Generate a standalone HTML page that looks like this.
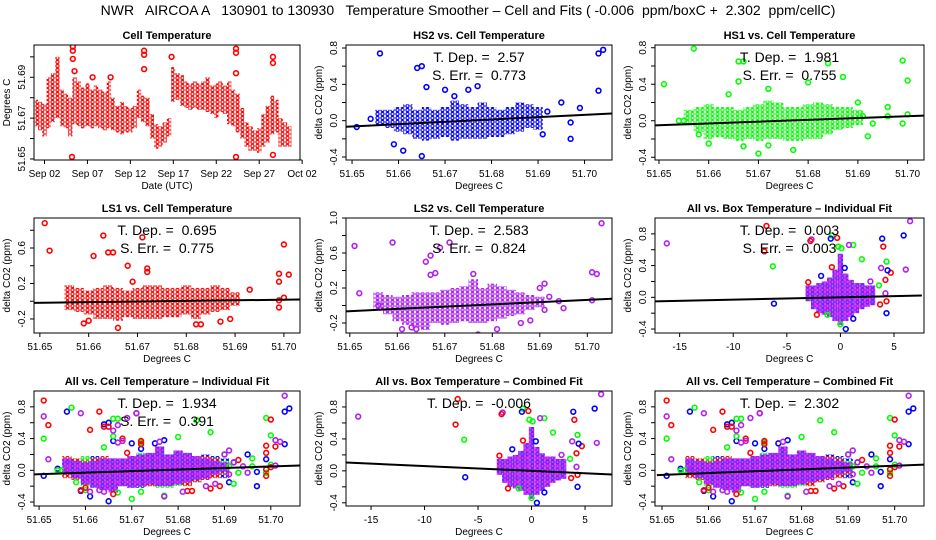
<!DOCTYPE html>
<html><head><meta charset="utf-8"><style>
html,body{margin:0;padding:0;background:#fff}
svg{display:block;font-family:"Liberation Sans",Arial,sans-serif}
</style></head><body>
<svg id="c" width="936" height="540" viewBox="0 0 936 540" xmlns="http://www.w3.org/2000/svg">
<defs>
<pattern id="p-r" width="5" height="4" patternUnits="userSpaceOnUse"><circle cx="2.5" cy="2" r="1.6" fill="none" stroke="#ff0000" stroke-width="1.2"/></pattern>
<pattern id="p-b" width="5" height="4" patternUnits="userSpaceOnUse"><circle cx="2.5" cy="2" r="1.6" fill="none" stroke="#0000ff" stroke-width="1.2"/></pattern>
<pattern id="p-g" width="5" height="4" patternUnits="userSpaceOnUse"><circle cx="2.5" cy="2" r="1.6" fill="none" stroke="#00ff00" stroke-width="1.2"/></pattern>
<pattern id="p-m" width="5" height="4" patternUnits="userSpaceOnUse"><circle cx="2.5" cy="2" r="1.6" fill="none" stroke="#a020f0" stroke-width="1.2"/><circle cx="2.5" cy="2" r="0.5" fill="#ff00ff"/></pattern>
<pattern id="p-mix" width="10" height="8" patternUnits="userSpaceOnUse"><rect width="10" height="8" fill="#e040ff"/><circle cx="2.5" cy="2" r="1.6" fill="none" stroke="#7020f0" stroke-width="1.2"/><circle cx="7.5" cy="6" r="1.6" fill="none" stroke="#7020f0" stroke-width="1.2"/><circle cx="7.5" cy="2" r="1.6" fill="none" stroke="#a020f0" stroke-width="1.2"/><circle cx="2.5" cy="6" r="1.6" fill="none" stroke="#5030ff" stroke-width="1.2"/></pattern>
</defs>
<text x="468" y="15" text-anchor="middle" font-size="14" style="white-space:pre">NWR   AIRCOA A   130901 to 130930   Temperature Smoother – Cell and Fits ( -0.006  ppm/boxC +  2.302  ppm/cellC)</text>
</svg>
<script>
// ---- Cell temperature time series (day of Sep, band low/high) ----
const tsDays=[1.0,1.5,2.0,2.5,3.0,3.5,4.0,4.5,5.0,5.5,6.0,6.5,7.0,7.5,8.0,8.5,9.0,9.5,10.0,10.5,11.0,11.5,12.0,12.5,13.0,13.5,14.0,14.5,15.0,15.5,16.0,16.5,17.0,17.5,18.0,18.5,19.0,19.5,20.0,20.5,21.0,21.5,22.0,22.5,23.0,23.5,24.0,24.5,25.0,25.5,26.0,26.5,27.0,27.5,28.0,28.5,29.0,29.5,30.0,30.5];
const tsLo=[51.666,51.664,51.661,51.665,51.668,51.670,51.666,51.665,51.661,51.667,51.666,51.665,51.666,51.665,51.666,51.665,51.664,51.665,51.664,51.663,51.662,51.663,51.663,51.665,51.670,51.668,51.666,51.660,51.655,51.656,51.658,51.661,51.678,51.679,51.676,51.675,51.674,51.675,51.674,51.674,51.673,51.672,51.670,51.673,51.672,51.667,51.666,51.663,51.660,51.656,51.654,51.654,51.653,51.656,51.658,51.662,51.663,51.656,51.656,51.656];
const tsHi=[51.679,51.678,51.677,51.690,51.692,51.700,51.684,51.682,51.680,51.690,51.688,51.685,51.687,51.684,51.686,51.684,51.683,51.688,51.680,51.676,51.678,51.676,51.675,51.676,51.684,51.681,51.680,51.672,51.667,51.666,51.668,51.670,51.695,51.692,51.691,51.688,51.687,51.688,51.687,51.688,51.690,51.686,51.687,51.688,51.686,51.688,51.684,51.682,51.675,51.668,51.666,51.664,51.665,51.672,51.676,51.681,51.679,51.670,51.668,51.666];
const tsOutDay=[5.3,5.3,5.3,5.2,13.6,13.6,13.6,16.8,24.3,24.3,24.3,24.3,28.6,28.6,28.6,5.5,7.6,9.7];
const tsOutVal=[51.705,51.703,51.699,51.651,51.703,51.701,51.694,51.700,51.704,51.702,51.692,51.651,51.700,51.697,51.652,51.693,51.690,51.690];
const dateTicks=[2,7,12,17,22,27,32];
const dateLabels=["Sep 02","Sep 07","Sep 12","Sep 17","Sep 22","Sep 27","Oct 02"];

// ---- Cell-temperature scatter cores (bins of 0.002 C) ----
const cellBins=[51.656,51.658,51.660,51.662,51.664,51.666,51.668,51.670,51.672,51.674,51.676,51.678,51.680,51.682,51.684,51.686,51.688,51.690];
const hs2Lo=[-0.05,-0.08,-0.12,-0.15,-0.2,-0.22,-0.2,-0.18,-0.22,-0.2,-0.2,-0.2,-0.18,-0.18,-0.15,-0.12,-0.08,-0.1];
const hs2Hi=[0.12,0.12,0.15,0.18,0.12,0.15,0.12,0.15,0.22,0.18,0.15,0.2,0.15,0.12,0.15,0.2,0.18,0.15];
const hs1Lo=[-0.05,-0.12,-0.2,-0.18,-0.2,-0.22,-0.2,-0.22,-0.2,-0.2,-0.22,-0.22,-0.2,-0.2,-0.15,-0.1,-0.08,-0.05];
const hs1Hi=[0.12,0.15,0.18,0.15,0.15,0.12,0.15,0.18,0.22,0.2,0.15,0.15,0.18,0.2,0.18,0.15,0.15,0.12];
const ls1Lo=[-0.1,-0.12,-0.15,-0.2,-0.2,-0.22,-0.18,-0.2,-0.2,-0.2,-0.18,-0.18,-0.15,-0.2,-0.15,-0.12,-0.1,-0.05];
const ls1Hi=[0.18,0.15,0.12,0.15,0.18,0.15,0.12,0.15,0.18,0.18,0.15,0.15,0.18,0.15,0.15,0.18,0.15,0.1];
const ls2Lo=[-0.05,-0.1,-0.18,-0.22,-0.25,-0.28,-0.2,-0.22,-0.2,-0.18,-0.2,-0.2,-0.18,-0.15,-0.12,-0.1,-0.05,-0.02];
const ls2Hi=[0.15,0.12,0.1,0.12,0.15,0.15,0.15,0.18,0.2,0.22,0.3,0.2,0.25,0.22,0.18,0.15,0.12,0.1];

// ---- outliers ----
const hs2OutX=[51.651,51.654,51.656,51.659,51.661,51.664,51.665,51.665,51.666,51.670,51.672,51.675,51.677,51.692,51.695,51.697,51.697,51.699,51.703,51.704,51.703,51.691];
const hs2OutY=[-0.07,0.02,0.74,-0.26,-0.33,0.58,0.6,-0.39,0.37,0.34,0.27,0.34,0.38,0.1,0.2,-0.02,-0.2,0.14,0.74,0.78,0.33,-0.15];
const hs1OutX=[51.651,51.654,51.655,51.657,51.658,51.660,51.664,51.666,51.667,51.666,51.667,51.670,51.672,51.672,51.677,51.680,51.684,51.687,51.690,51.692,51.693,51.696,51.696,51.699,51.699,51.700,51.700,51.691];
const hs1OutY=[0.4,0,0,0.79,-0.15,-0.25,0.29,0.65,0.65,0.43,-0.28,-0.36,0.35,-0.27,-0.32,0.42,0.63,0.48,0.2,-0.17,-0.03,0.15,0.05,0.66,-0.03,0.44,0.07,0.05];
const ls1OutX=[51.651,51.652,51.659,51.660,51.661,51.663,51.664,51.665,51.666,51.668,51.669,51.671,51.672,51.672,51.682,51.683,51.687,51.689,51.693,51.699,51.699,51.699,51.699,51.700,51.701,51.700];
const ls1OutY=[0.88,0.57,-0.25,-0.22,0.51,0.74,0.55,0.55,-0.3,0.4,0.22,0.72,0.33,0.37,-0.26,-0.26,-0.23,-0.2,0.13,0.31,0.22,0.01,-0.07,0.64,0.3,0.04];
const ls2OutX=[51.651,51.652,51.656,51.659,51.661,51.663,51.664,51.666,51.667,51.667,51.668,51.669,51.671,51.676,51.677,51.681,51.686,51.688,51.690,51.691,51.691,51.692,51.694,51.695,51.701,51.702,51.703,51.701];
const ls2OutY=[0.68,0.14,0.0,0.72,-0.27,-0.25,-0.27,0.5,0.57,0.35,0.37,0.66,0.72,0.36,-0.33,-0.27,-0.2,-0.17,0.2,0.25,-0.05,0.1,0.05,-0.03,0.38,0.36,0.94,0.06];

// ---- Box temperature ----
const boxBins=[-3,-2.5,-2,-1.5,-1,-0.5,0,0.5,1,1.5,2,2.5,3];
const boxLo=[-0.05,-0.15,-0.2,-0.22,-0.25,-0.3,-0.35,-0.3,-0.25,-0.2,-0.15,-0.12,-0.1];
const boxHi=[0.15,0.15,0.18,0.2,0.25,0.35,0.55,0.3,0.22,0.18,0.18,0.15,0.15];
const boxOutX=[-16.2,-7.1,-6.9,-6.3,-6.2,-2.7,-2.8,-0.8,-0.3,-0.9,1.2,0.8,2,3.9,4,4.3,4.7,4.2,4.4,3.8,5.9,6.5,6.1,4.3,0.5,3.7,4.3,1.2,-1.8,-0.8,0.4,-3,3.6,-2.2,-1.2,0,4.2,2.8,-0.2,0.1];
const boxOutY=[0.68,0.58,0.9,0.39,-0.08,0.73,0.71,0.78,0.75,0.74,0.66,0.66,0.48,0.74,0.64,0.45,0.31,0.22,0.34,0.37,0.78,0.96,0.35,-0.2,-0.4,-0.09,-0.05,-0.27,0.27,0.38,0.37,0.19,0.15,-0.22,-0.22,-0.34,0.05,0.2,0.64,0.62];
const boxOutC=["m","r","r","g","b","m","r","g","r","b","g","m","g","b","r","g","r","r","b","m","b","m","m","b","b","r","r","b","b","r","b","r","g","r","g","g","m","m","g","g"];

// ---- fit slopes ----
const slopes={hs2:2.57,hs1:1.981,ls1:0.695,ls2:2.583,boxInd:0.003,cellInd:1.934,boxComb:-0.006,cellComb:2.302};

const svg=document.getElementById('c');
const NS='http://www.w3.org/2000/svg';
const COL={r:'#ff0000',b:'#0000ff',g:'#00ff00',m:'#b020f0'};
function mk(tag,attrs,parent){const e=document.createElementNS(NS,tag);for(const k in attrs)e.setAttribute(k,attrs[k]);(parent||svg).appendChild(e);return e;}
function txt(x,y,s,size,opts,parent){const e=mk('text',Object.assign({x:x,y:y,'font-size':size,'text-anchor':'middle',style:'white-space:pre'},opts||{}),parent);e.textContent=s;return e;}

function panel(cfg){
  const g=mk('g',{});
  
  
  const [L,T,R,B]=cfg.box;
  const sx=v=>L+(v-cfg.xlim[0])/(cfg.xlim[1]-cfg.xlim[0])*(R-L);
  const sy=v=>B-(v-cfg.ylim[0])/(cfg.ylim[1]-cfg.ylim[0])*(B-T);
  const clip='clip-'+cfg.name;
  const cp=mk('clipPath',{id:clip},g);mk('rect',{x:L,y:T,width:R-L,height:B-T},cp);
  const plot=mk('g',{'clip-path':'url(#'+clip+')'},g);
  
  
  cfg.draw(plot,sx,sy);
  const bx=mk('rect',{x:L,y:T,width:R-L,height:B-T,fill:'none',stroke:'#000','stroke-width':1},g);
  
  
  const xa=mk('g',{},g);
  
  
  mk('line',{x1:sx(cfg.xticks[0]),x2:sx(cfg.xticks[cfg.xticks.length-1]),y1:B,y2:B,stroke:'#000'},xa);
  cfg.xticks.forEach((v,i)=>{const x=sx(v);mk('line',{x1:x,x2:x,y1:B,y2:B+4,stroke:'#000'},xa);
    if(cfg.xlabels[i]!==''){const t=txt(x,B+17,cfg.xlabels[i],10,{},xa);}});
  const xt=txt((L+R)/2,B+29,cfg.xtitle,10,{},g);
  
  
  const ya=mk('g',{},g);
  
  
  mk('line',{x1:L,x2:L,y1:sy(cfg.yticks[0]),y2:sy(cfg.yticks[cfg.yticks.length-1]),stroke:'#000'},ya);
  cfg.yticks.forEach((v,i)=>{const y=sy(v);mk('line',{x1:L-4,x2:L,y1:y,y2:y,stroke:'#000'},ya);
    if(cfg.ylabels[i]!==''){const t=txt(0,0,cfg.ylabels[i],10,{transform:`translate(${L-9},${y}) rotate(-90)`},ya);}});
  const yt=txt(0,0,cfg.ytitle,10,{transform:`translate(${L-24},${(T+B)/2}) rotate(-90)`},g);
  
  
  const tt=txt((L+R)/2,T-6,cfg.title,11,{'font-weight':'bold'},g);
  
  
  (cfg.stats||[]).forEach((s,i)=>{const t=txt((L+R)/2,T+17+i*18,s,14,{},g);});
}

function cores(p,sx,sy,bins,lo,hi,w,fill){
  bins.forEach((b,i)=>{const r=mk('rect',{x:sx(b-w/2),y:sy(hi[i]),width:sx(b+w/2)-sx(b-w/2),height:sy(lo[i])-sy(hi[i]),fill:fill},p);
    
    });
}
function pts(p,sx,sy,xs,ys,col){
  xs.forEach((x,i)=>{const c=mk('circle',{cx:sx(x),cy:sy(ys[i]),r:2.4,fill:'none',stroke:col,'stroke-width':1.6},p);
    
    });
}
function fit(p,sx,sy,xlim,x0,slope){
  const l=mk('line',{x1:sx(xlim[0]),y1:sy(slope*(xlim[0]-x0)),x2:sx(xlim[1]),y2:sy(slope*(xlim[1]-x0)),stroke:'#000','stroke-width':2},p);
  
  
}

const cellT=[51.65,51.66,51.67,51.68,51.69,51.70];
const cellL=["51.65","51.66","51.67","51.68","51.69","51.70"];
const c1=[34,300],c2=[346,612],c3=[655,924];
const r1=[45,160],r2=[218,333],r3=[391,506];
const yHS=[-0.4,-0.2,0,0.2,0.4,0.6,0.8],yHSl=["-0.4","","0.0","","0.4","","0.8"];
const DC='Degrees C',DP='delta CO2 (ppm)';

panel({name:'cell-temperature-panel',box:[c1[0],r1[0],c1[1],r1[1]],xlim:[0.78,31.75],ylim:[51.6495,51.7058],
  xticks:dateTicks,xlabels:dateLabels,yticks:[51.65,51.66,51.67,51.68,51.69,51.70],ylabels:["51.65","","51.67","","51.69",""],
  xtitle:'Date (UTC)',ytitle:'Degrees C',title:'Cell Temperature',
  draw:(p,sx,sy)=>{cores(p,sx,sy,tsDays,tsLo,tsHi,0.5,'url(#p-r)');pts(p,sx,sy,tsOutDay,tsOutVal,COL.r);}});

panel({name:'hs2-panel',box:[c2[0],r1[0],c2[1],r1[1]],xlim:[51.6487,51.7059],ylim:[-0.433,0.833],
  xticks:cellT,xlabels:cellL,yticks:yHS,ylabels:yHSl,xtitle:DC,ytitle:DP,title:'HS2 vs. Cell Temperature',
  stats:['T. Dep. =  2.57','S. Err. =  0.773'],
  draw:(p,sx,sy)=>{cores(p,sx,sy,cellBins,hs2Lo,hs2Hi,0.002,'url(#p-b)');pts(p,sx,sy,hs2OutX,hs2OutY,COL.b);fit(p,sx,sy,[51.6487,51.7059],51.675,slopes.hs2);}});

panel({name:'hs1-panel',box:[c3[0],r1[0],c3[1],r1[1]],xlim:[51.6492,51.7033],ylim:[-0.43,0.83],
  xticks:cellT,xlabels:cellL,yticks:yHS,ylabels:yHSl,xtitle:DC,ytitle:DP,title:'HS1 vs. Cell Temperature',
  stats:['T. Dep. =  1.981','S. Err. =  0.755'],
  draw:(p,sx,sy)=>{cores(p,sx,sy,cellBins,hs1Lo,hs1Hi,0.002,'url(#p-g)');pts(p,sx,sy,hs1OutX,hs1OutY,COL.g);fit(p,sx,sy,[51.6492,51.7033],51.675,slopes.hs1);}});

panel({name:'ls1-panel',box:[c1[0],r2[0],c1[1],r2[1]],xlim:[51.6488,51.7033],ylim:[-0.358,0.938],
  xticks:cellT,xlabels:cellL,yticks:[-0.2,0,0.2,0.4,0.6,0.8],ylabels:["-0.2","","0.2","","0.6",""],xtitle:DC,ytitle:DP,title:'LS1 vs. Cell Temperature',
  stats:['T. Dep. =  0.695','S. Err. =  0.775'],
  draw:(p,sx,sy)=>{cores(p,sx,sy,cellBins,ls1Lo,ls1Hi,0.002,'url(#p-r)');pts(p,sx,sy,ls1OutX,ls1OutY,COL.r);fit(p,sx,sy,[51.6488,51.7033],51.675,slopes.ls1);}});

panel({name:'ls2-panel',box:[c2[0],r2[0],c2[1],r2[1]],xlim:[51.6492,51.7052],ylim:[-0.314,1.0],
  xticks:cellT,xlabels:cellL,yticks:[-0.2,0,0.2,0.4,0.6,0.8,1.0],ylabels:["-0.2","","0.2","","0.6","","1.0"],xtitle:DC,ytitle:DP,title:'LS2 vs. Cell Temperature',
  stats:['T. Dep. =  2.583','S. Err. =  0.824'],
  draw:(p,sx,sy)=>{cores(p,sx,sy,cellBins,ls2Lo,ls2Hi,0.002,'url(#p-m)');pts(p,sx,sy,ls2OutX,ls2OutY,COL.m);fit(p,sx,sy,[51.6492,51.7052],51.675,slopes.ls2);}});

function boxDraw(slope){return (p,sx,sy)=>{cores(p,sx,sy,boxBins,boxLo,boxHi,0.5,'url(#p-mix)');
  boxOutX.forEach((x,i)=>{const c=mk('circle',{cx:sx(x),cy:sy(boxOutY[i]),r:2.4,fill:'none',stroke:COL[boxOutC[i]],'stroke-width':1.6},p);
    
    });
  fit(p,sx,sy,[-17.4,7.6],0,slope);};}
const boxT=[-15,-10,-5,0,5],boxL=["-15","-10","-5","0","5"];
panel({name:'all-box-individual-panel',box:[c3[0],r2[0],c3[1],r2[1]],xlim:[-17.3,7.8],ylim:[-0.45,1.0],
  xticks:boxT,xlabels:boxL,yticks:yHS,ylabels:yHSl,xtitle:DC,ytitle:DP,title:'All vs. Box Temperature – Individual Fit',
  stats:['T. Dep. =  0.003','S. Err. =  0.003'],draw:boxDraw(slopes.boxInd)});
panel({name:'all-box-combined-panel',box:[c2[0],r3[0],c2[1],r3[1]],xlim:[-17.34,7.52],ylim:[-0.44,1.0],
  xticks:boxT,xlabels:boxL,yticks:yHS,ylabels:yHSl,xtitle:DC,ytitle:DP,title:'All vs. Box Temperature – Combined Fit',
  stats:['T. Dep. =  -0.006'],draw:boxDraw(slopes.boxComb)});

function allCell(slope){return (p,sx,sy)=>{
  cores(p,sx,sy,cellBins,hs2Lo,hs2Hi,0.002,'url(#p-b)');
  cores(p,sx,sy,cellBins,hs1Lo,hs1Hi,0.002,'url(#p-g)');
  cores(p,sx,sy,cellBins,ls1Lo,ls1Hi,0.002,'url(#p-r)');
  cores(p,sx,sy,cellBins,ls2Lo,ls2Hi,0.002,'url(#p-mix)');
  pts(p,sx,sy,hs2OutX,hs2OutY,COL.b);pts(p,sx,sy,hs1OutX,hs1OutY,COL.g);
  pts(p,sx,sy,ls1OutX,ls1OutY,COL.r);pts(p,sx,sy,ls2OutX,ls2OutY,COL.m);
  fit(p,sx,sy,[51.6489,51.7063],51.675,slope);};}
panel({name:'all-cell-individual-panel',box:[c1[0],r3[0],c1[1],r3[1]],xlim:[51.6489,51.7063],ylim:[-0.45,1.0],
  xticks:cellT,xlabels:cellL,yticks:yHS,ylabels:yHSl,xtitle:DC,ytitle:DP,title:'All vs. Cell Temperature – Individual Fit',
  stats:['T. Dep. =  1.934','S. Err. =  0.391'],draw:allCell(slopes.cellInd)});
panel({name:'all-cell-combined-panel',box:[c3[0],r3[0],c3[1],r3[1]],xlim:[51.6485,51.7063],ylim:[-0.45,1.0],
  xticks:cellT,xlabels:cellL,yticks:yHS,ylabels:yHSl,xtitle:DC,ytitle:DP,title:'All vs. Cell Temperature – Combined Fit',
  stats:['T. Dep. =  2.302'],draw:allCell(slopes.cellComb)});
</script>
</body></html>
